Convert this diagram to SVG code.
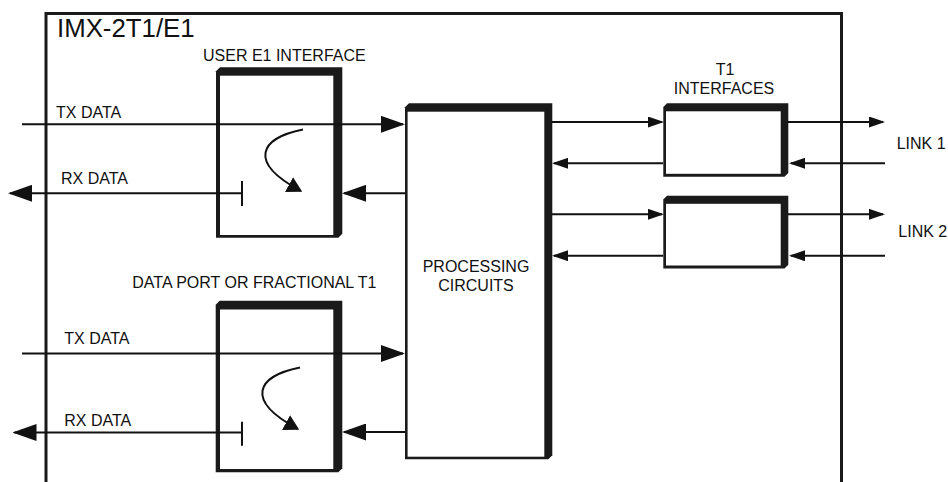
<svg xmlns="http://www.w3.org/2000/svg" width="948" height="482" viewBox="0 0 948 482">
<style>
.t{font-family:"Liberation Sans",Arial,sans-serif;font-size:16px;fill:#111}
.c{text-anchor:middle}
.shell{fill:#1a1a1a}
.in{fill:#fff}
.ln{fill:none;stroke:#111;stroke-width:2}
.big{marker-end:url(#hb)}
.sm{marker-end:url(#hs)}
.cv{marker-end:url(#hc)}
</style>
<defs>
<marker id="hb" markerUnits="userSpaceOnUse" viewBox="0 0 24 17" refX="22" refY="8.5" markerWidth="24" markerHeight="17" orient="auto"><path d="M0,0 L24,8.5 L0,17 z" fill="#111"/></marker>
<marker id="hs" markerUnits="userSpaceOnUse" viewBox="0 0 16 11" refX="14" refY="5.5" markerWidth="16" markerHeight="11" orient="auto"><path d="M0,0 L16,5.5 L0,11 z" fill="#111"/></marker>
<marker id="hc" markerUnits="userSpaceOnUse" viewBox="0 0 15 17" refX="13" refY="8.5" markerWidth="15" markerHeight="17" orient="auto"><path d="M0,0 L15,8.5 L0,17 z" fill="#111"/></marker>
</defs>
<rect width="948" height="482" fill="#fff"/>

<g id="frame">
<path d="M46,482 V13.5 H841.5 V482" fill="none" stroke="#1a1a1a" stroke-width="3"/>
<text class="t" x="57" y="37.3" style="font-size:25.8px">IMX-2T1/E1</text>
</g>

<g id="user-e1-interface">
<polygon class="shell" points="216,71.3 220,67.3 342.3,67.3 342.3,233.7 338.3,237.7 216,237.7"/>
<rect class="in" x="220" y="75.7" width="113.3" height="159.3"/>
<text class="t" x="203" y="61">USER E1 INTERFACE</text>
</g>

<g id="data-port">
<polygon class="shell" points="215.7,304.7 219.7,300.7 342.3,300.7 342.3,468.3 338.3,472.3 215.7,472.3"/>
<rect class="in" x="220" y="309.5" width="113.3" height="159.5"/>
<text class="t" x="132.3" y="288.3">DATA PORT OR FRACTIONAL T1</text>
</g>

<g id="processing">
<polygon class="shell" points="405,107.3 409,103.3 552.3,103.3 552.3,455.3 548.3,459.3 405,459.3"/>
<rect class="in" x="407.6" y="111.7" width="136.7" height="345"/>
<text class="t c" x="476" y="272.3">PROCESSING</text>
<text class="t c" x="476" y="290.7">CIRCUITS</text>
</g>

<g id="t1-link1">
<polygon class="shell" points="663.3,107 667,103.3 788.3,103.3 788.3,173 784.5,176.7 663.3,176.7"/>
<rect class="in" x="666" y="111.3" width="114.7" height="62.5"/>
<text class="t c" x="725" y="75">T1</text>
<text class="t c" x="724" y="94">INTERFACES</text>
</g>

<g id="t1-link2">
<polygon class="shell" points="663.3,199.5 667,195.7 788.3,195.7 788.3,264.8 784.5,268.5 663.3,268.5"/>
<rect class="in" x="666" y="203.8" width="114.7" height="61.7"/>
</g>

<g id="connectors">
<path class="ln big" d="M22,124.3 H403"/>
<path class="ln big" d="M405,193.3 H344"/>
<path class="ln big" d="M242,193.3 H10"/>
<path class="ln" d="M242,181 V206"/>
<path class="ln cv" d="M303,129.5 C260,138 247,162 300.5,190.8"/>

<path class="ln big" d="M22,353.5 H403"/>
<path class="ln big" d="M405,432 H344"/>
<path class="ln big" d="M242,432.5 H14.5"/>
<path class="ln" d="M242,421.7 V445.7"/>
<path class="ln cv" d="M300,367.5 C257,376 244,400 297.5,428.8"/>

<path class="ln sm" d="M552,122 H662"/>
<path class="ln sm" d="M663,163.3 H554"/>
<path class="ln sm" d="M788,122 H883"/>
<path class="ln sm" d="M885,163.3 H791"/>
<path class="ln sm" d="M552,214.3 H662"/>
<path class="ln sm" d="M663,255.7 H554"/>
<path class="ln sm" d="M788,214.3 H883"/>
<path class="ln sm" d="M885,255.7 H791"/>
</g>

<g id="labels">
<text class="t" x="56" y="118.3">TX DATA</text>
<text class="t" x="61" y="184">RX DATA</text>
<text class="t" x="64.3" y="344">TX DATA</text>
<text class="t" x="64.3" y="426">RX DATA</text>
<text class="t" x="896.7" y="149.3">LINK 1</text>
<text class="t" x="898.3" y="236.7">LINK 2</text>
</g>
</svg>
